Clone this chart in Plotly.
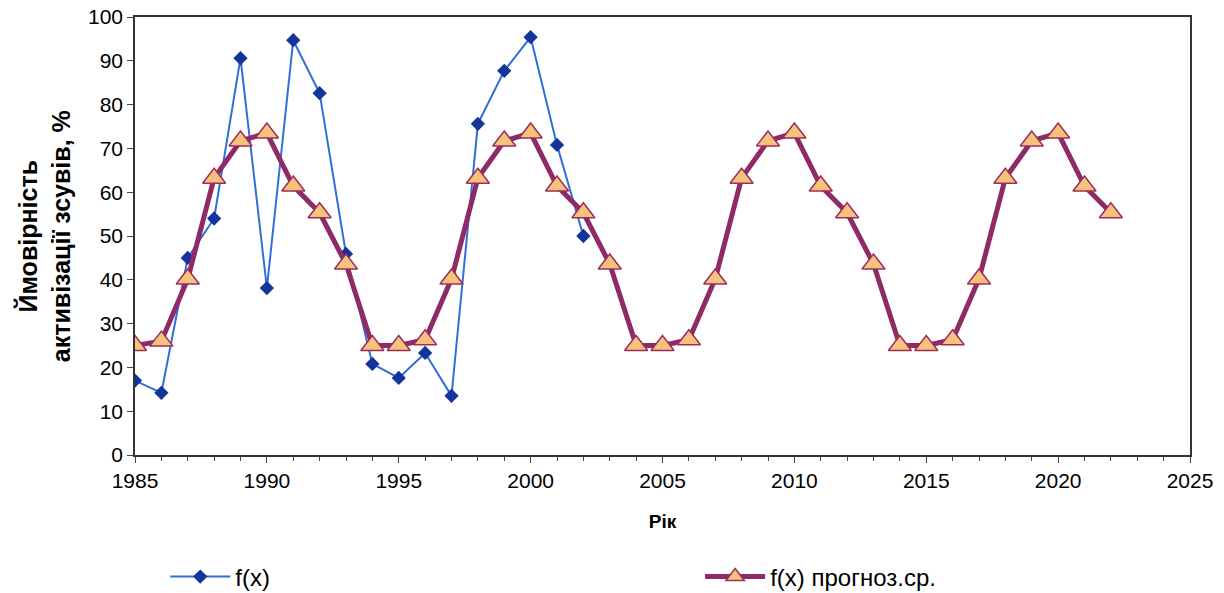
import plotly.graph_objects as go

years_obs = list(range(1985, 2003))
f_obs = [17, 14.2, 45, 54, 90.6, 38.1, 94.7, 82.6, 45.9, 20.8,
         17.6, 23.3, 13.5, 75.6, 87.7, 95.4, 70.8, 50]

years_fc = list(range(1985, 2023))
f_fc = [25, 26, 40.2, 63.2, 71.7, 73.5, 61.4, 55.3, 43.6, 25,
        25, 26.3, 40.2, 63.2, 71.7, 73.5, 61.4, 55.3, 43.6, 25,
        25, 26.3, 40.2, 63.2, 71.7, 73.5, 61.4, 55.3, 43.6, 25,
        25, 26.3, 40.2, 63.2, 71.7, 73.5, 61.4, 55.3]

_FONT = 'Liberation Sans, Arial, sans-serif'

obs = go.Scatter(
    x=years_obs, y=f_obs,
    mode='lines+markers',
    name='f(x)',
    legend='legend',
    line=dict(color='#2f6fd8', width=2),
    marker=dict(symbol='diamond', size=11, color='#13349a'),
)

fc = go.Scatter(
    x=years_fc, y=f_fc,
    mode='lines+markers',
    name='f(x) прогноз.ср.',
    legend='legend2',
    line=dict(color='#8e2a66', width=5),
    marker=dict(symbol='triangle-up', size=20, color='#f6c27c',
                line=dict(color='#9a2f5e', width=1.5)),
)

_LEGEND = dict(xref='container', yref='container', y=0.027,
               xanchor='left', yanchor='middle', itemwidth=60,
               bgcolor='rgba(0,0,0,0)', font=dict(size=24))

fig = go.Figure([obs, fc])
fig.update_layout(
    width=1224, height=593,
    margin=dict(l=135, r=34, t=17, b=138, autoexpand=False),
    paper_bgcolor='white',
    plot_bgcolor='white',
    font=dict(family=_FONT, color='black', size=21),
    showlegend=True,
    legend=dict(x=0.135, **_LEGEND),
    legend2=dict(x=0.572, **_LEGEND),
    xaxis=dict(
        range=[1985, 2025], dtick=5, tick0=1985,
        ticks='outside', ticklen=6, tickcolor='#444',
        minor=dict(dtick=1, ticks='outside', ticklen=4, tickcolor='#444'),
        showline=True, linecolor='#333', linewidth=1.5, mirror=True,
        showgrid=False, zeroline=False,
        title=dict(text='<b>Рік</b>', font=dict(size=19), standoff=24),
        tickfont=dict(size=21),
    ),
    yaxis=dict(
        range=[0, 100], dtick=10,
        ticks='outside', ticklen=6, tickcolor='#444',
        showline=True, linecolor='#333', linewidth=1.5, mirror=True,
        showgrid=False, zeroline=False,
        tickfont=dict(size=21),
    ),
    annotations=[dict(
        text='<b>Ймовірність<br>активізації зсувів, %</b>',
        xref='paper', yref='paper', x=-0.086, y=0.5,
        xanchor='center', yanchor='middle', textangle=-90,
        showarrow=False, font=dict(size=25),
    )],
)
fig.write_html('out.html', config={'displayModeBar': False},
               post_script="document.body.style.margin='0';")
